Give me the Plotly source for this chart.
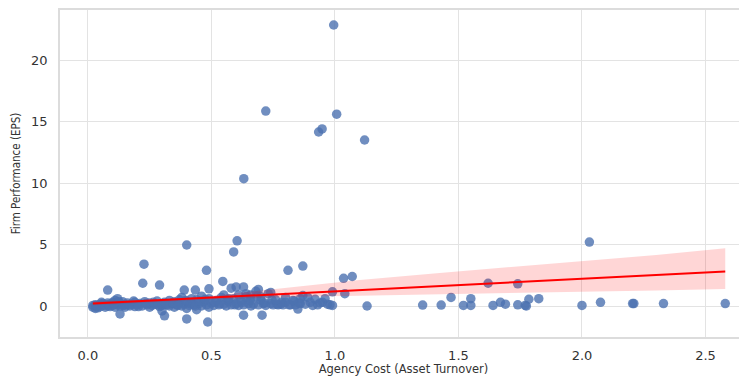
import plotly.graph_objects as go

# Scatter data: Agency Cost (Asset Turnover) vs Firm Performance (EPS)
agency_cost = [
    # outliers / upper points
    0.995, 0.72, 1.007, 0.934, 0.948, 1.12, 0.631,
    0.40, 0.604, 0.59, 0.227, 0.48, 0.81, 0.87, 0.222, 0.29, 0.546, 1.035, 1.07,
    0.08, 0.39, 0.435, 0.49, 0.58, 0.60, 0.63, 0.69, 0.74, 0.99, 1.04, 1.13,
    0.13, 0.31, 0.40, 0.485, 0.63, 0.705, 0.85, 0.30,
    # high x
    2.03, 1.62, 1.74, 1.47, 1.55, 1.67, 1.785, 1.825, 2.075,
    1.355, 1.43, 1.52, 1.55, 1.64, 1.69, 1.74, 1.77, 1.775, 2.0, 2.205, 2.21, 2.33, 2.58,
    # dense band
    0.02, 0.02, 0.03, 0.03, 0.04, 0.04, 0.05, 0.05, 0.06, 0.06, 0.07, 0.07, 0.08, 0.08,
    0.09, 0.09, 0.10, 0.10, 0.11, 0.11, 0.12, 0.12, 0.13, 0.13, 0.14, 0.15, 0.15, 0.16,
    0.17, 0.18, 0.19, 0.19, 0.20, 0.21, 0.22, 0.23, 0.24, 0.25, 0.25, 0.26, 0.27, 0.28,
    0.29, 0.30, 0.30, 0.31, 0.32, 0.33, 0.33, 0.34, 0.35, 0.35, 0.36, 0.37, 0.37, 0.38,
    0.38, 0.39, 0.40, 0.40, 0.41, 0.42, 0.42, 0.43, 0.44, 0.44, 0.45, 0.46, 0.46, 0.47,
    0.48, 0.49, 0.49, 0.50, 0.51, 0.52, 0.53, 0.54, 0.55, 0.55, 0.56, 0.57, 0.58, 0.59,
    0.60, 0.61, 0.61, 0.62, 0.63, 0.64, 0.65, 0.66, 0.66, 0.67, 0.68, 0.69, 0.70, 0.71,
    0.72, 0.73, 0.74, 0.75, 0.77, 0.78, 0.79, 0.80, 0.80, 0.82, 0.84, 0.86, 0.86, 0.87,
    0.88, 0.89, 0.90, 0.91, 0.93, 0.95, 0.96, 0.97, 0.98, 0.99,
    0.035, 0.055, 0.085, 0.105, 0.125, 0.145, 0.165, 0.185, 0.205, 0.235, 0.265, 0.285,
    0.315, 0.345, 0.365, 0.395, 0.415, 0.435, 0.455, 0.475, 0.515, 0.535, 0.565, 0.595,
    0.625, 0.655, 0.685, 0.715, 0.745, 0.765, 0.785, 0.815, 0.835, 0.855,
    0.66, 0.70, 0.76, 0.83, 0.92, 0.94, 0.57, 0.64,
]
eps = [
    22.85, 15.85, 15.6, 14.15, 14.4, 13.5, 10.35,
    4.96, 5.3, 4.4, 3.4, 2.9, 2.9, 3.25, 1.85, 1.7, 2.0, 2.25, 2.4,
    1.3, 1.3, 1.3, 1.4, 1.45, 1.55, 1.55, 1.35, 1.1, 1.15, 1.0, 0.0,
    -0.65, -0.8, -1.05, -1.3, -0.75, -0.75, -0.25, -0.4,
    5.2, 1.85, 1.8, 0.7, 0.6, 0.3, 0.55, 0.6, 0.3,
    0.08, 0.08, 0.05, 0.05, 0.05, 0.15, 0.1, 0.05, 0.0, 0.05, 0.2, 0.2, 0.2, 0.2,
    -0.1, 0.05, -0.2, 0.1, 0.0, -0.15, 0.15, -0.05, 0.05, 0.2, -0.1, 0.1, 0.0, 0.25,
    -0.05, 0.15, 0.3, 0.05, 0.45, -0.1, 0.6, 0.1, 0.2, 0.0, 0.35, 0.1, -0.1, 0.25,
    0.0, 0.15, 0.3, -0.05, 0.1, 0.2, 0.0, 0.35, 0.1, -0.1, 0.25, 0.05, 0.15, 0.4,
    -0.05, 0.2, 0.05, 0.3, 0.1, 0.45, 0.0, 0.2, 0.35, -0.1, 0.1, 0.5, 0.25, 0.0,
    0.7, 0.15, 0.4, -0.2, 0.05, 0.3, 0.6, 0.1, 0.5, -0.3, 0.2, 0.8, 0.0, 0.35,
    0.1, 0.6, -0.1, 0.25, 0.05, 0.45, 0.1, 0.7, 0.15, 0.9, 0.0, 0.35, 0.1, 0.6,
    0.2, 0.9, 0.05, 0.4, 0.1, 1.0, 0.2, 0.0, 0.6, 0.15, 1.2, 0.1, 0.5, 0.2,
    0.05, 1.0, 0.2, 0.1, 0.1, 0.15, 0.1, 0.7, 0.3, 0.1, 0.1, 0.6, 0.2, 0.85,
    0.15, 0.7, 0.3, 0.05, 0.1, 0.3, 0.6, 0.15, 0.1, 0.05,
    0.05, 0.3, 0.1, 0.2, 0.35, 0.05, 0.1, 0.4, -0.05, 0.2, 0.3, 0.1,
    0.15, 0.25, 0.05, 0.45, 0.2, 0.0, 0.4, 0.55, 0.3, 0.2, 0.5, 0.1,
    0.3, 0.45, 0.8, 0.25, 0.5, 0.15, 0.3, 0.1, 0.4, 0.25,
    0.9, 0.75, 0.5, 0.45, 0.55, 0.25, 0.6, 0.75,
]

# Regression line and confidence band
fit_x = [0.02, 2.58]
fit_y = [0.2, 2.8]
band_x = [0.02, 0.3, 0.5, 0.7, 0.9, 1.1, 1.4, 1.7, 2.0, 2.3, 2.58]
band_upper = [0.36, 0.55, 0.82, 1.25, 1.7, 2.12, 2.65, 3.15, 3.65, 4.15, 4.7]
band_lower = [0.06, 0.35, 0.55, 0.68, 0.78, 0.84, 0.95, 1.05, 1.15, 1.27, 1.38]

x_ticks = [0.0, 0.5, 1.0, 1.5, 2.0, 2.5]
y_ticks = [0, 5, 10, 15, 20]

fig = go.Figure()
fig.add_trace(go.Scatter(
    x=agency_cost, y=eps, mode="markers",
    marker=dict(size=9.5, color="#4c72b0", opacity=0.8, line=dict(width=0)),
    showlegend=False, hoverinfo="x+y",
))
fig.add_trace(go.Scatter(
    x=band_x + band_x[::-1], y=band_upper + band_lower[::-1],
    fill="toself", fillcolor="rgba(255,0,0,0.16)", line=dict(width=0),
    mode="lines", showlegend=False, hoverinfo="skip",
))
fig.add_trace(go.Scatter(
    x=fit_x, y=fit_y, mode="lines", line=dict(color="red", width=2),
    showlegend=False,
))

axis_common = dict(
    showgrid=True, gridcolor="#e3e3e3", gridwidth=1.2, automargin=False,
    zeroline=False, showline=True, linecolor="#dcdcdc", linewidth=1.5,
    mirror=True, ticks="", tickfont=dict(family="DejaVu Sans", size=13, color="#333333"),
)
fig.update_layout(
    width=739, height=368,
    margin=dict(l=52, r=0, t=2, b=39),
    paper_bgcolor="white", plot_bgcolor="white",
    xaxis=dict(range=[-0.113, 2.668], tickvals=x_ticks,
               ticktext=[f"{v:.1f}" for v in x_ticks],
               title=dict(text="Agency Cost (Asset Turnover)", standoff=2,
                          font=dict(family="DejaVu Sans", size=11.5, color="#333333")),
               ticklabelstandoff=6, **axis_common),
    yaxis=dict(range=[-2.52, 24.07], tickvals=y_ticks,
               title=dict(text="Firm Performance (EPS)", standoff=8,
                          font=dict(family="DejaVu Sans Condensed, DejaVu Sans", size=11.5, color="#333333")),
               ticklabelstandoff=8, **axis_common),
)
fig.write_html("out.html")
